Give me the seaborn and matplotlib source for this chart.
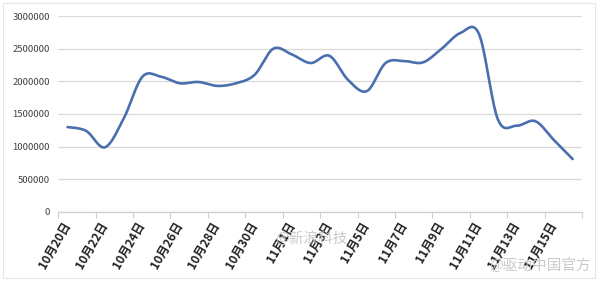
import numpy as np
import pandas as pd
import matplotlib
matplotlib.use("Agg")
import matplotlib.pyplot as plt
from matplotlib.patches import Rectangle
import seaborn as sns

# ---- data ----
dates = ["10月20日", "10月21日", "10月22日", "10月23日", "10月24日", "10月25日", "10月26日",
         "10月27日", "10月28日", "10月29日", "10月30日", "10月31日", "11月1日", "11月2日",
         "11月3日", "11月4日", "11月5日", "11月6日", "11月7日", "11月8日", "11月9日",
         "11月10日", "11月11日", "11月12日", "11月13日", "11月14日", "11月15日", "11月16日"]
values = [1300000, 1240000, 990000, 1430000, 2070000, 2070000, 1970000,
          1990000, 1930000, 1970000, 2100000, 2500000, 2410000, 2280000,
          2390000, 2020000, 1850000, 2280000, 2310000, 2290000, 2500000,
          2740000, 2720000, 1420000, 1320000, 1390000, 1100000, 810000]
yticks = [0, 500000, 1000000, 1500000, 2000000, 2500000, 3000000]

sns.set_theme(style="white")
plt.rcParams['font.family'] = ['Noto Sans CJK SC', 'DejaVu Sans']


def smooth(xs, ys, n=20):
    """Catmull-Rom style bezier smoothing (like a spreadsheet's smoothed line)."""
    xs = np.asarray(xs, float)
    ys = np.asarray(ys, float)
    px = np.concatenate([[xs[0]], xs, [xs[-1]]])
    py = np.concatenate([[ys[0]], ys, [ys[-1]]])
    ox, oy = [], []
    for i in range(1, len(px) - 2):
        p0 = np.array([px[i], py[i]])
        p3 = np.array([px[i + 1], py[i + 1]])
        c1 = p0 + (p3 - np.array([px[i - 1], py[i - 1]])) / 6.0
        c2 = p3 - (np.array([px[i + 2], py[i + 2]]) - p0) / 6.0
        t = np.linspace(0, 1, n, endpoint=(i == len(px) - 3))
        pts = ((1 - t) ** 3)[:, None] * p0 + (3 * (1 - t) ** 2 * t)[:, None] * c1 \
            + (3 * (1 - t) * t ** 2)[:, None] * c2 + (t ** 3)[:, None] * p3
        ox.extend(pts[:, 0])
        oy.extend(pts[:, 1])
    return np.array(ox), np.array(oy)


idx = np.arange(len(dates))
sx, sy = smooth(idx, values)
df = pd.DataFrame({"x": sx, "y": sy})

fig = plt.figure(figsize=(6.0, 2.86), dpi=100)
ax = fig.add_axes([0.097, 0.259, 0.873, 0.685])

sns.lineplot(data=df, x="x", y="y", ax=ax, color="#4a6fae", linewidth=1.9,
             sort=False, estimator=None)

ax.set_xlim(-0.5, len(dates) - 0.5)
ax.set_ylim(0, 3000000)
ax.set_yticks(yticks)
ax.set_yticklabels([str(v) for v in yticks], fontsize=6.8, color="#404040")
ax.yaxis.grid(True, color="#d9d9d9", linewidth=0.9)
ax.set_axisbelow(True)

label_pos = idx[::2]
ax.set_xticks(label_pos)
ax.set_xticklabels([dates[i] for i in label_pos], rotation=60, ha="right",
                   va="center", rotation_mode="anchor", fontsize=8.6,
                   fontweight="bold", color="#222222")
ax.set_xticks(np.arange(-0.5, len(dates), 2), minor=True)
ax.tick_params(axis="x", which="major", length=0, pad=8)
ax.tick_params(axis="x", which="minor", length=4, color="#cfcfcf", width=0.8,
               direction="out", bottom=True)
ax.tick_params(axis="y", length=0, pad=6)

for s in ["top", "right", "left"]:
    ax.spines[s].set_visible(False)
ax.spines["bottom"].set_color("#cfcfcf")
ax.spines["bottom"].set_linewidth(0.9)
ax.set_xlabel("")
ax.set_ylabel("")

# faint outer frame
fig.patches.append(Rectangle((3 / 600, 8 / 286), 592 / 600, 275 / 286,
                             transform=fig.transFigure, fill=False,
                             edgecolor="#e6e6e6", linewidth=0.8))

# watermarks
fig.text(0.458, 0.15, "@新浪科技", fontsize=10.5, color="#c4c4c4", alpha=0.9)
fig.text(0.815, 0.055, "@驱动中国官方", fontsize=10.5, color="#c4c4c4", alpha=0.9)

fig.savefig("out.png", dpi=100)
